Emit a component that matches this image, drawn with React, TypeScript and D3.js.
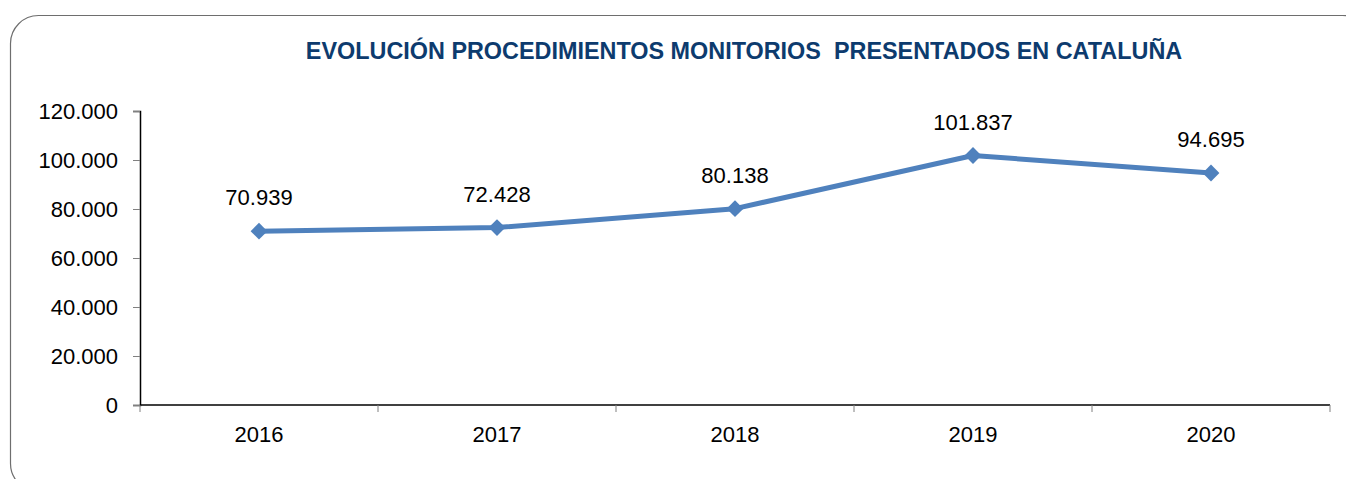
import { useEffect, useRef } from "react";
import * as d3 from "d3";

const years = ["2016", "2017", "2018", "2019", "2020"];
const presentados = [70939, 72428, 80138, 101837, 94695];
const yTicks = [0, 20000, 40000, 60000, 80000, 100000, 120000];

const title = "EVOLUCIÓN PROCEDIMIENTOS MONITORIOS  PRESENTADOS EN CATALUÑA";

// formato español: punto como separador de miles
const fmt = (v: number) => (v === 0 ? "0" : d3.format(",")(v).replace(/,/g, "."));

function App() {
  const chartRef = useRef<SVGSVGElement | null>(null);

  useEffect(() => {
    const width = 1346;
    const height = 479;
    const margin = { top: 111, right: 16, bottom: 74, left: 140 };
    const innerW = width - margin.left - margin.right;
    const innerH = height - margin.top - margin.bottom;

    const root = d3.select(chartRef.current);
    root.selectAll("*").remove();

    // marco redondeado
    root
      .append("rect")
      .attr("x", 10.5)
      .attr("y", 15.5)
      .attr("width", 1360)
      .attr("height", 476)
      .attr("rx", 28)
      .attr("fill", "#fff")
      .attr("stroke", "#6e6e6e")
      .attr("stroke-width", 1.2);

    root
      .append("text")
      .attr("x", 744)
      .attr("y", 59)
      .attr("text-anchor", "middle")
      .attr("font-family", "Liberation Sans, Arial, sans-serif")
      .attr("font-size", 23.4)
      .attr("font-weight", "bold")
      .attr("fill", "#0d3b6e")
      .style("white-space", "pre")
      .text(title);

    const svg = root
      .append("g")
      .attr("transform", `translate(${margin.left},${margin.top})`);

    const xScale = d3.scaleBand().domain(years).range([0, innerW]).padding(0);
    const yScale = d3.scaleLinear().domain([0, 120000]).range([innerH, 0]);

    // eje Y
    const yAxis = d3
      .axisLeft(yScale)
      .tickValues(yTicks)
      .tickSize(7)
      .tickPadding(15)
      .tickFormat((d) => fmt(+d));
    const gy = svg.append("g").call(yAxis);
    gy.select(".domain").attr("stroke", "#000").attr("stroke-width", 1.5);
    gy.selectAll(".tick line").attr("stroke", "#808080");
    gy.selectAll(".tick text")
      .attr("font-family", "Liberation Sans, Arial, sans-serif")
      .attr("font-size", 22)
      .attr("fill", "#000");

    // eje X: marcas en los límites de cada categoría
    const gx = svg.append("g").attr("transform", `translate(0,${innerH})`);
    gx.append("line")
      .attr("x1", 0)
      .attr("x2", innerW)
      .attr("stroke", "#000")
      .attr("stroke-width", 1.5);
    const bounds = [...years.map((y) => xScale(y) as number), innerW];
    gx.selectAll("line.xtick")
      .data(bounds)
      .enter()
      .append("line")
      .attr("class", "xtick")
      .attr("x1", (d) => d)
      .attr("x2", (d) => d)
      .attr("y1", 0)
      .attr("y2", 7)
      .attr("stroke", "#808080");
    gx.selectAll("text")
      .data(years)
      .enter()
      .append("text")
      .attr("x", (d) => (xScale(d) as number) + xScale.bandwidth() / 2)
      .attr("y", 37)
      .attr("text-anchor", "middle")
      .attr("font-family", "Liberation Sans, Arial, sans-serif")
      .attr("font-size", 22)
      .attr("fill", "#000")
      .text((d) => d);

    const data = years.map((y, i) => ({ year: y, value: presentados[i] }));
    const cx = (d: { year: string }) => (xScale(d.year) as number) + xScale.bandwidth() / 2;

    const line = d3
      .line<{ year: string; value: number }>()
      .x(cx)
      .y((d) => yScale(d.value));

    svg
      .append("path")
      .datum(data)
      .attr("fill", "none")
      .attr("stroke", "#4f81bd")
      .attr("stroke-width", 5)
      .attr("stroke-linejoin", "round")
      .attr("d", line);

    const diamond = d3.symbol().type(d3.symbolDiamond2).size(180);
    svg
      .selectAll("path.marker")
      .data(data)
      .enter()
      .append("path")
      .attr("class", "marker")
      .attr("transform", (d) => `translate(${cx(d)},${yScale(d.value)})`)
      .attr("d", diamond)
      .attr("fill", "#4f81bd");

    svg
      .selectAll("text.label")
      .data(data)
      .enter()
      .append("text")
      .attr("class", "label")
      .attr("x", cx)
      .attr("y", (d) => yScale(d.value) - 26)
      .attr("text-anchor", "middle")
      .attr("font-family", "Liberation Sans, Arial, sans-serif")
      .attr("font-size", 22)
      .attr("fill", "#000")
      .text((d) => fmt(d.value));
  }, []);

  return (
    <svg
      ref={chartRef}
      width={1346}
      height={479}
      style={{ position: "fixed", left: 0, top: 0, background: "#fff" }}
    />
  );
}

export default App;
